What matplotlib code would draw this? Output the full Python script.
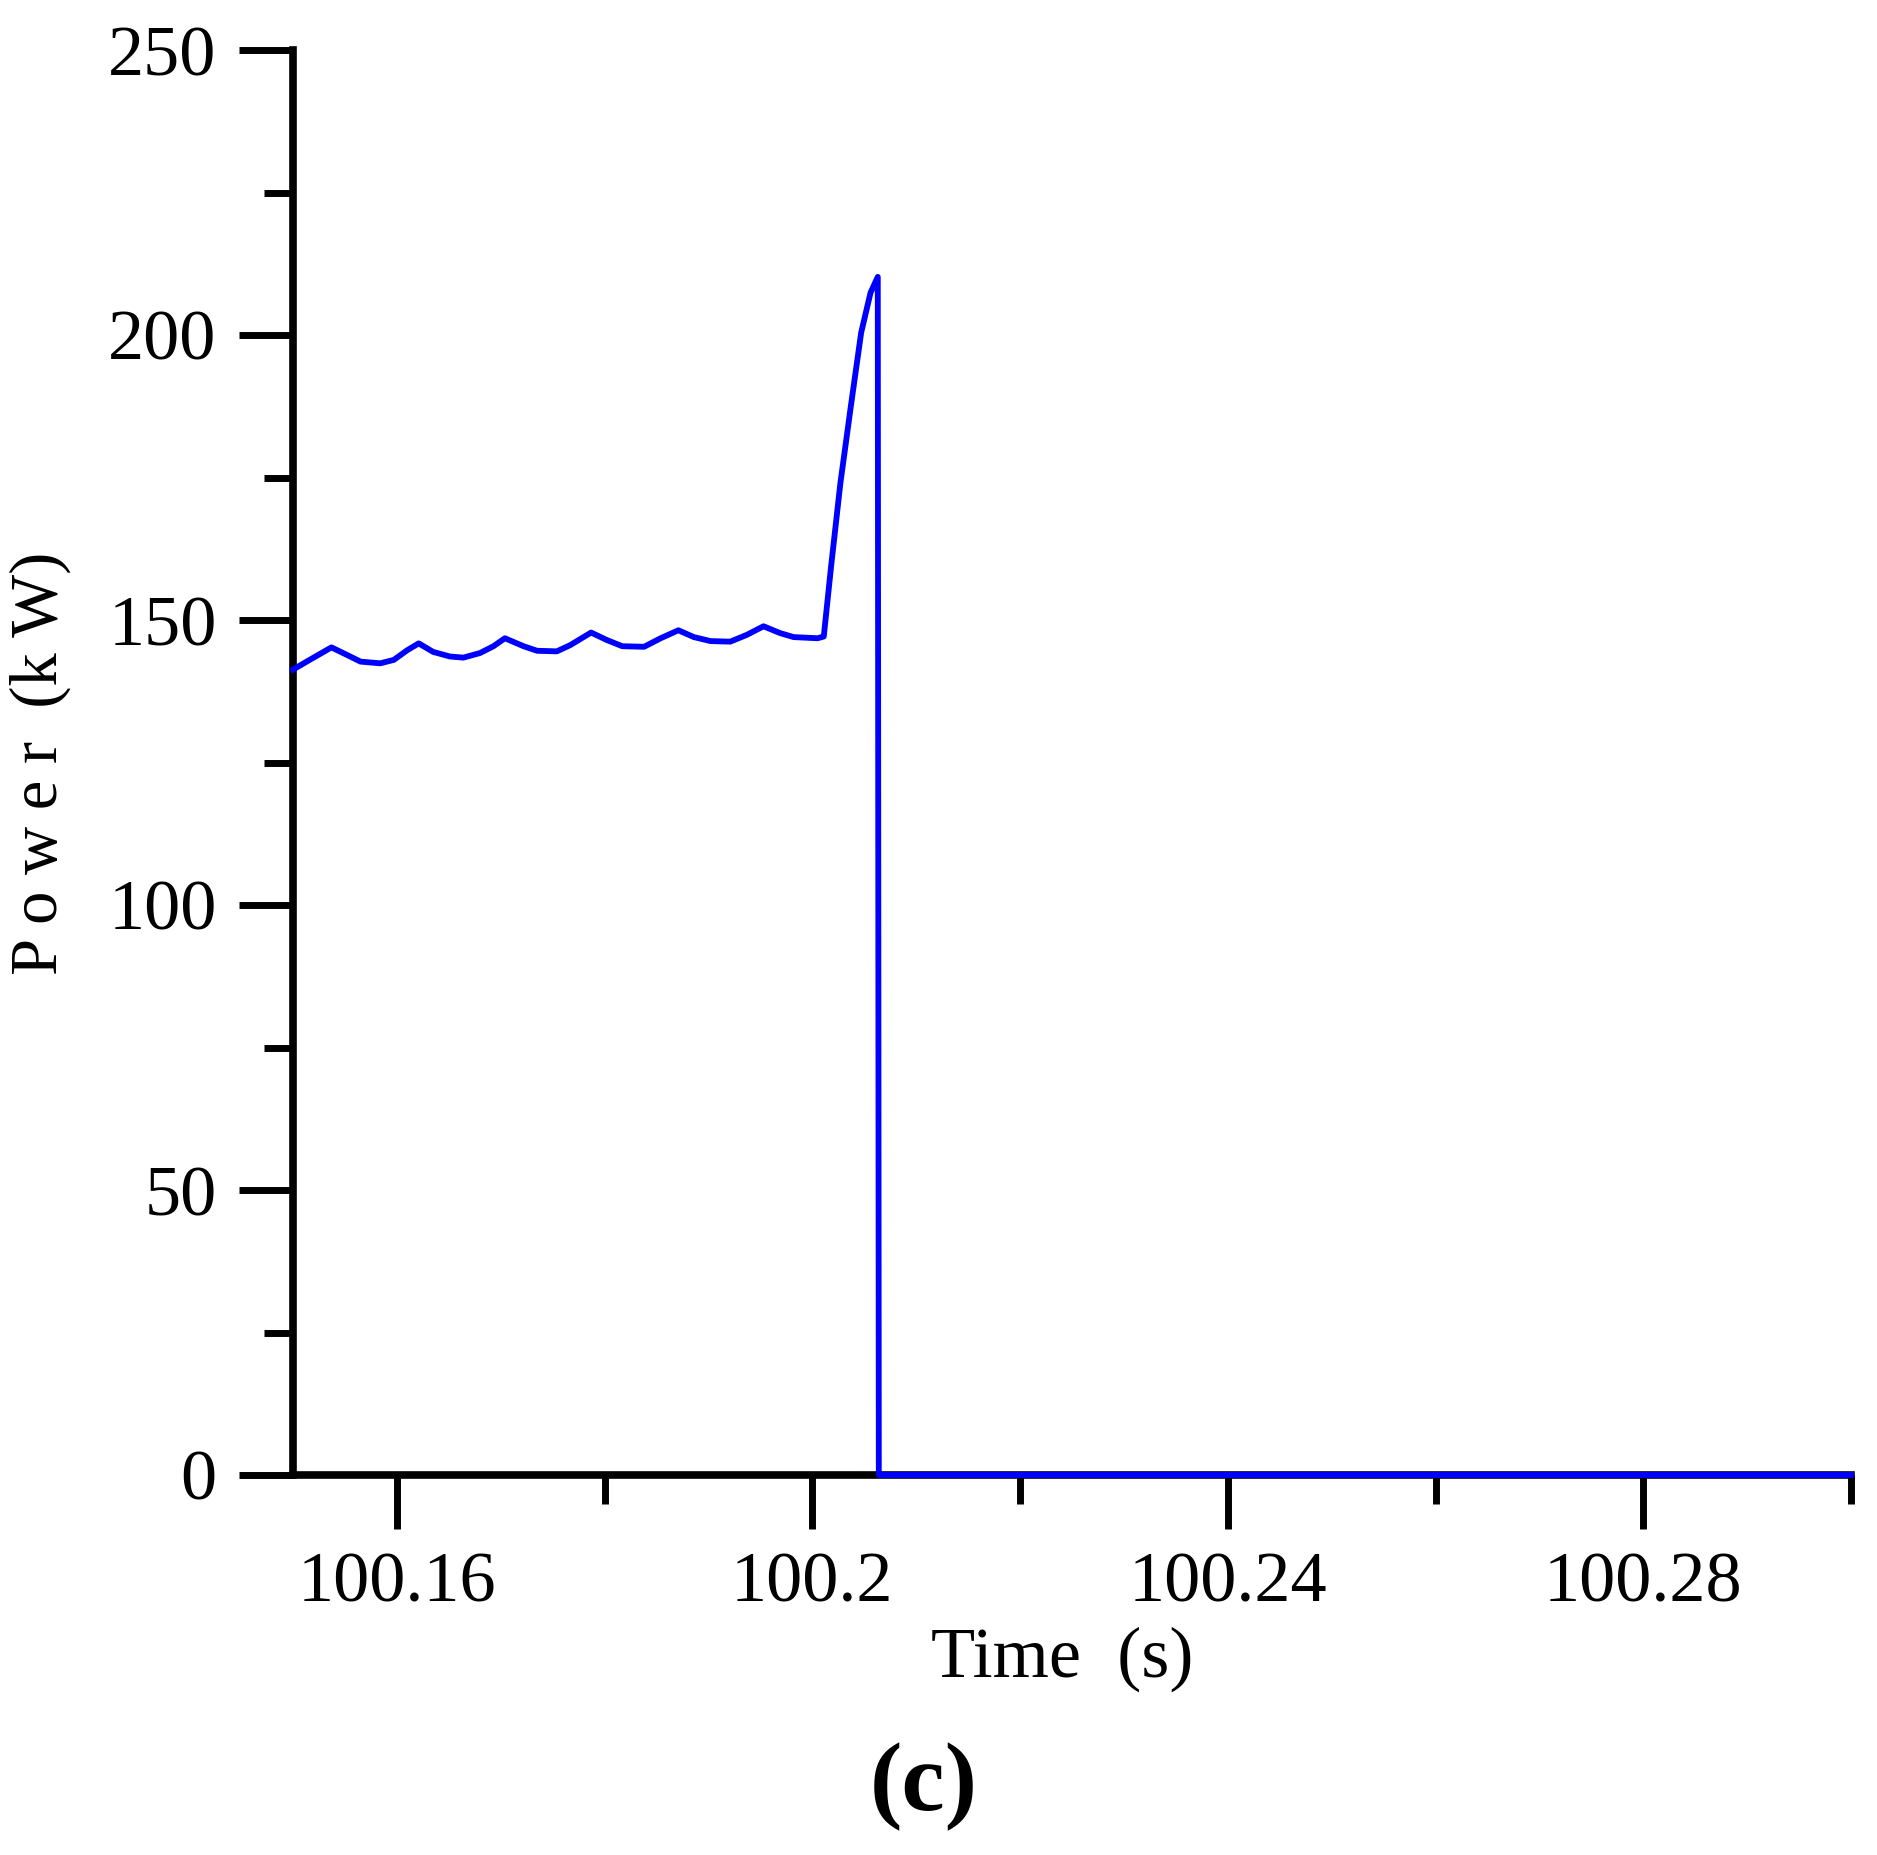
import numpy as np
import matplotlib.pyplot as plt
from matplotlib.ticker import MultipleLocator, FixedLocator

# dane: czas [s], moc [kW]
time_s = [100.1500, 100.1516, 100.1537, 100.1555, 100.1565, 100.1584, 100.1597,
          100.1610, 100.1621, 100.1635, 100.1651, 100.1664, 100.1680, 100.1693,
          100.1704, 100.1722, 100.1735, 100.1754, 100.1767, 100.1787, 100.1802,
          100.1817, 100.1838, 100.1854, 100.1871, 100.1886, 100.1902, 100.1921,
          100.1937, 100.1953, 100.1969, 100.1982, 100.2005, 100.2011,
          100.2018, 100.2027, 100.2037, 100.2047, 100.2056, 100.2063,
          100.2064, 100.3000]
power_kw = [141.3, 143.0, 145.2, 143.6, 142.7, 142.4, 143.0,
            144.7, 145.9, 144.4, 143.6, 143.4, 144.2, 145.4,
            146.8, 145.4, 144.6, 144.5, 145.6, 147.8, 146.5,
            145.4, 145.3, 146.8, 148.2, 147.0, 146.3, 146.2,
            147.4, 148.9, 147.7, 147.0, 146.8, 147.1,
            159.3, 174.0, 187.4, 200.4, 207.4, 210.2,
            0.0, 0.0]

x_major = [100.16, 100.20, 100.24, 100.28]
x_major_labels = ["100.16", "100.2", "100.24", "100.28"]
x_minor = [100.18, 100.22, 100.26, 100.30]
y_major = [0, 50, 100, 150, 200, 250]

W, H = 1877, 1855
plt.rcParams['font.family'] = ['Liberation Serif', 'DejaVu Serif']

fig = plt.figure(figsize=(W / 100, H / 100), dpi=100)
ax = fig.add_axes([293 / W, 1 - 1475 / H, (1851 - 293) / W, (1475 - 50) / H])

ax.plot(time_s, power_kw, color='#0000ff', lw=4.2, zorder=3, clip_on=False)

ax.set_xlim(100.15, 100.30)
ax.set_ylim(0, 250)

ax.xaxis.set_major_locator(FixedLocator(x_major))
ax.set_xticklabels(x_major_labels)
ax.xaxis.set_minor_locator(FixedLocator(x_minor))
ax.yaxis.set_major_locator(FixedLocator(y_major))
ax.yaxis.set_minor_locator(MultipleLocator(25))

for s in ['top', 'right']:
    ax.spines[s].set_visible(False)
for s in ['left', 'bottom']:
    ax.spines[s].set_linewidth(5.5)
    ax.spines[s].set_zorder(2.5)

ax.tick_params(axis='both', which='major', direction='out', length=39, width=5,
               labelsize=52, color='black')
ax.tick_params(axis='both', which='minor', direction='out', length=21, width=5)
ax.tick_params(axis='x', which='major', pad=16)
ax.tick_params(axis='y', which='major', pad=16)

# podpisy osi
fig.text(1062 / W, 1 - 1677 / H, "Time  (s)", ha='center', va='baseline', fontsize=52)
fig.text(40 / W, 1 - 763 / H, "P o w e r  (k W)", ha='center', va='center',
         rotation=90, fontsize=48)
fig.text(924 / W, 1 - 1810 / H, "(c)", ha='center', va='baseline', fontsize=70,
         fontweight='bold')

fig.savefig("out.png", dpi=100)
